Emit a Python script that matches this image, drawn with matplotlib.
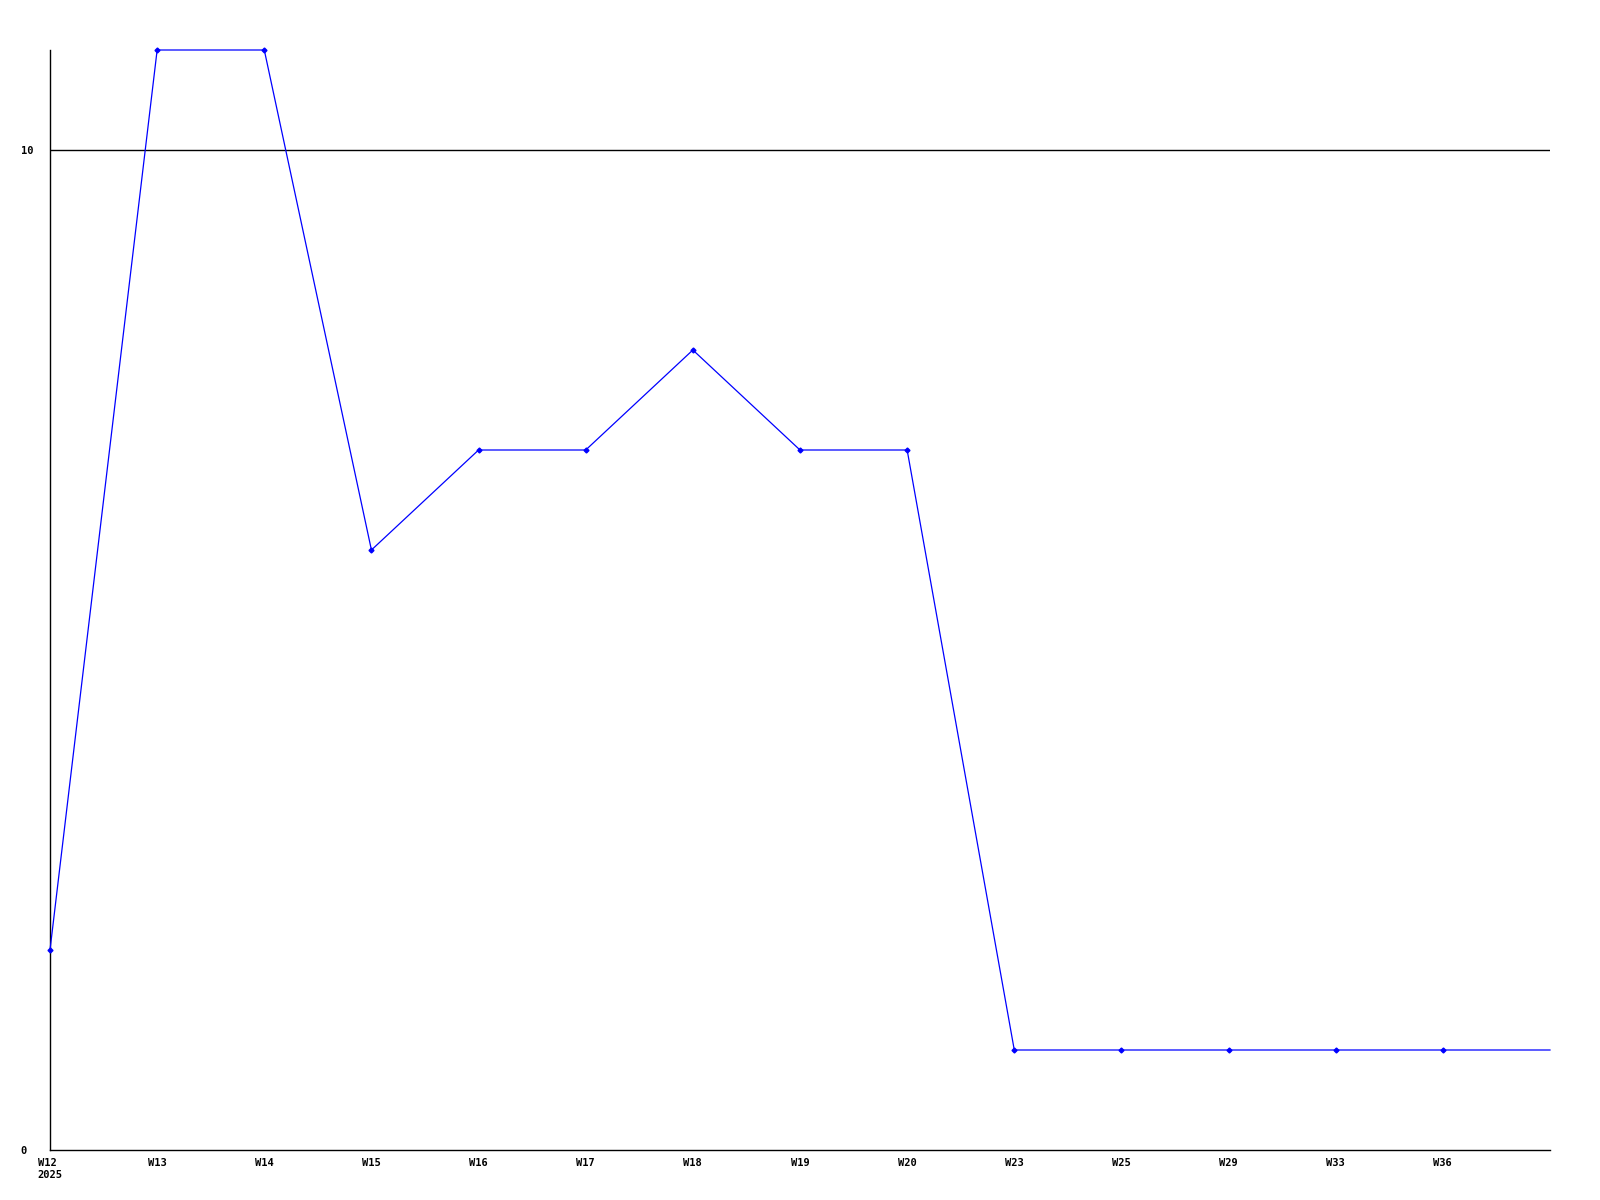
import matplotlib.pyplot as plt

# Weekly counts (last point has no label, line runs to the right edge)
weeks = ["W12\n2025", "W13", "W14", "W15", "W16", "W17", "W18", "W19",
         "W20", "W23", "W25", "W29", "W33", "W36", ""]
values = [2, 11, 11, 6, 7, 7, 8, 7, 7, 1, 1, 1, 1, 1, 1]
y_ticks = [0, 10]

plt.rcParams["font.family"] = ["DejaVu Sans Mono"]

fig = plt.figure(figsize=(16, 12), dpi=100)
ax = fig.add_axes([50 / 1600, 1 - 1150 / 1200, 1500 / 1600, 1100 / 1200])

xs = list(range(len(values)))
ax.plot(xs, values, color="#0000ff", linewidth=0.9, marker="D", markersize=2.5,
        markevery=list(range(len(values) - 1)), clip_on=False, zorder=3)

ax.axhline(10, color="black", linewidth=1, zorder=1)

ax.set_xlim(0, len(values) - 1)
ax.set_ylim(0, 11)

ax.set_xticks(xs)
ax.set_xticklabels(weeks, fontsize=7.5, fontweight="bold", ha="center",
                   multialignment="left")
ax.set_yticks(y_ticks)
ax.set_yticklabels([str(t) for t in y_ticks], fontsize=7.5, fontweight="bold",
                   ha="left")
ax.tick_params(axis="both", length=0)
ax.tick_params(axis="x", pad=6)
ax.tick_params(axis="y", pad=21)

for side in ("top", "right"):
    ax.spines[side].set_visible(False)
for side in ("left", "bottom"):
    ax.spines[side].set_color("black")
    ax.spines[side].set_linewidth(1)

fig.savefig("out.png", dpi=100)
